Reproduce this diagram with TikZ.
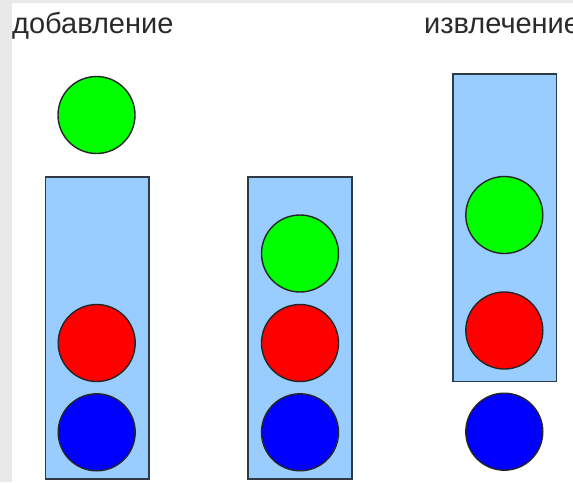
\documentclass[tikz,border=0pt]{standalone}
\usepackage{fontspec}
\setmainfont{Liberation Sans}
\definecolor{tubeblue}{HTML}{99CCFF}
\definecolor{edgegray}{HTML}{2E3A44}
\definecolor{framegray}{HTML}{E9E9E9}
\definecolor{labelgray}{HTML}{2A2A2A}
\begin{document}
\begin{tikzpicture}[x=1pt,y=-1pt,
  tube/.style={draw=edgegray, line width=1.8pt, fill=tubeblue, inner sep=0pt,
    minimum width=103.5pt},
  ball/.style={circle, draw=black!85, line width=1.4pt, inner sep=0pt,
    minimum size=77pt},
  caption/.style={anchor=base west, inner sep=0pt, text=labelgray,
    font=\fontsize{29}{31}\selectfont}]
  \useasboundingbox (0,0) rectangle (573,482);
  \fill[white] (0,0) rectangle (573,482);
  % page frame
  \fill[framegray] (0,0) rectangle (12,482);
  \fill[framegray] (0,0) rectangle (573,3);

  % captions
  \node[caption] (add) at (12,33) {добавление};
  \node[caption] (take) at (424,33) {извлечение};

  % tubes
  \node[tube, minimum height=302pt] (t1) at (97.25,328) {};
  \node[tube, minimum height=302pt] (t2) at (300,328) {};
  \node[tube, minimum height=307.5pt] (t3) at (504.75,227.75) {};

  % left stack: green ball about to be pushed
  \node[ball, fill=green] (g1) at (96.5,115) {};
  \node[ball, fill=red] (r1) at (96.7,343) {};
  \node[ball, fill=blue] (b1) at (96.7,432.3) {};

  % middle stack: after the push
  \node[ball, fill=green] (g2) at (300,253.5) {};
  \node[ball, fill=red] (r2) at (300,343) {};
  \node[ball, fill=blue] (b2) at (300,432.3) {};

  % right stack: bottom ball taken out
  \node[ball, fill=green] (g3) at (504.3,215) {};
  \node[ball, fill=red] (r3) at (504.3,330.5) {};
  \node[ball, fill=blue] (b3) at (504.3,431.7) {};
\end{tikzpicture}
\end{document}
